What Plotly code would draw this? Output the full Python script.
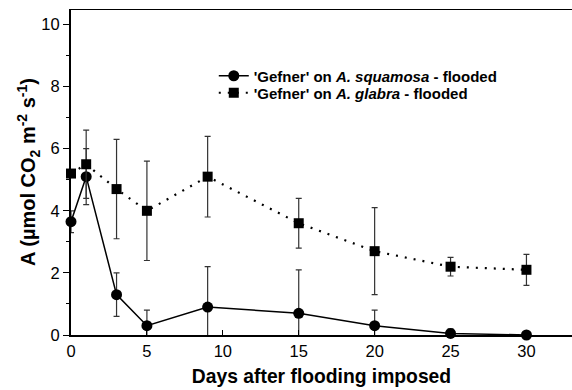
import plotly.graph_objects as go

# Days after flooding
days = [0, 1, 3, 5, 9, 15, 20, 25, 30]

# Net CO2 assimilation, 'Gefner' on A. squamosa (flooded)
squamosa_mean = [3.65, 5.1, 1.3, 0.3, 0.9, 0.7, 0.3, 0.05, 0.0]
squamosa_err = [0.35, 0.9, 0.7, 0.5, 1.3, 1.4, 0.5, 0.15, 0.0]

# Net CO2 assimilation, 'Gefner' on A. glabra (flooded)
glabra_mean = [5.2, 5.5, 4.7, 4.0, 5.1, 3.6, 2.7, 2.2, 2.1]
glabra_err = [0.1, 1.1, 1.6, 1.6, 1.3, 0.8, 1.4, 0.3, 0.5]

# axis ticks and extents
x_ticks = [0, 5, 10, 15, 20, 25, 30]
y_major = [0, 2, 4, 6, 8, 10]
y_minor = [1, 3, 5, 7, 9]
X_MAX = 33
Y_MAX = 10.5

font_family = "Liberation Sans, Arial, sans-serif"

fig = go.Figure()

fig.add_trace(go.Scatter(
    x=days, y=squamosa_mean,
    mode="lines+markers",
    name="<b>'Gefner' on <i>A. squamosa</i> - flooded</b>",
    line=dict(color="black", width=1.5),
    marker=dict(symbol="circle", size=11, color="black"),
    error_y=dict(type="data", array=squamosa_err, visible=True,
                 color="#333333", thickness=1.2, width=3),
    cliponaxis=False,
    legend="legend",
))

fig.add_trace(go.Scatter(
    x=days, y=glabra_mean,
    mode="lines+markers",
    name="<b>'Gefner' on <i>A. glabra</i> - flooded</b>",
    line=dict(color="black", width=2.2, dash="2px,7px"),
    marker=dict(symbol="square", size=10, color="black"),
    error_y=dict(type="data", array=glabra_err, visible=True,
                 color="#333333", thickness=1.2, width=3),
    cliponaxis=False,
    legend="legend2",
))

# frame line along the top edge of the plotting area
fig.add_trace(go.Scatter(
    x=[0, X_MAX], y=[Y_MAX, Y_MAX],
    mode="lines",
    line=dict(color="black", width=2),
    showlegend=False, hoverinfo="skip",
    cliponaxis=False,
))

legend_style = dict(
    xanchor="left", yanchor="middle",
    bgcolor="rgba(0,0,0,0)",
    font=dict(size=15, family=font_family),
    itemwidth=30, tracegroupgap=0,
)

fig.update_layout(
    width=572, height=390,
    margin=dict(l=71, r=0, t=9, b=55),
    paper_bgcolor="white",
    plot_bgcolor="white",
    font=dict(family=font_family, color="black", size=15),
    showlegend=True,
    legend=dict(x=0.285, y=1 - (76 - 9) / 326, **legend_style),
    legend2=dict(x=0.285, y=1 - (93 - 9) / 326, **legend_style),
    xaxis=dict(
        range=[0, X_MAX],
        tickvals=x_ticks,
        ticks="inside", ticklen=5, tickcolor="black", tickwidth=1,
        showline=True, linecolor="black", linewidth=2,
        showgrid=False, zeroline=False,
        tickfont=dict(size=16.5),
        title=dict(text="<b>Days after flooding imposed</b>",
                   font=dict(size=19.3), standoff=11),
    ),
    yaxis=dict(
        range=[0, Y_MAX],
        tickvals=y_major,
        ticks="outside", ticklen=6, tickcolor="black", tickwidth=1,
        minor=dict(tickvals=y_minor, ticks="outside", ticklen=3,
                   tickcolor="black", showgrid=False),
        showline=True, linecolor="black", linewidth=2,
        showgrid=False, zeroline=False,
        tickfont=dict(size=16.5),
        title=dict(text="<b>A (µmol CO<sub>2</sub> m<sup>-2</sup> s<sup>-1</sup>)</b>",
                   font=dict(size=20), standoff=0),
    ),
)

fig.write_html("out.html")
